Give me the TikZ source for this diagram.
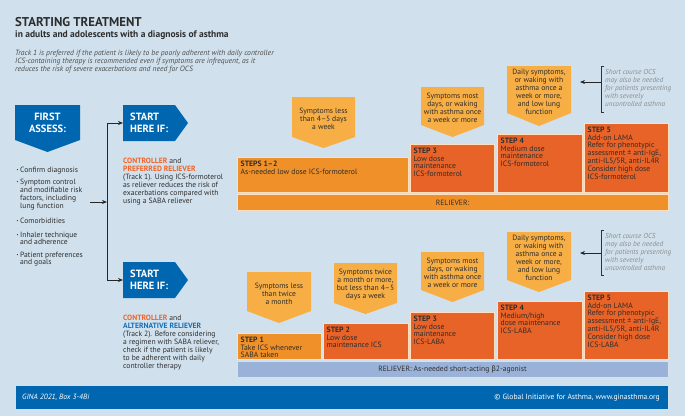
\documentclass[tikz,border=0pt]{standalone}
\usepackage{fontspec}
\setmainfont{PT Sans}
\newfontfamily\grk{Fira Sans}
\usetikzlibrary{arrows.meta}
\definecolor{bg}{RGB}{208,225,237}
\definecolor{gblue}{RGB}{0,102,176}
\definecolor{callc}{RGB}{247,174,68}
\definecolor{orng}{RGB}{239,145,40}
\definecolor{redo}{RGB}{232,99,40}
\definecolor{relb}{RGB}{155,178,216}
\definecolor{txt}{RGB}{45,45,45}
\definecolor{ctl}{RGB}{240,100,40}
\definecolor{alt}{RGB}{20,110,185}
\definecolor{ocs}{RGB}{140,140,140}
\newcommand{\mycallout}[7]{%
  \fill[callc] (#2,#3) -- (#4,#3) -- (#4,#5) -- ({(#2+#4)/2},#6) -- (#2,#5) -- cycle;
  \node[callt] (#1) at ({(#2+#4)/2},{(#3+#5)/2+2}) {#7};
}
\newcommand{\mystep}[7]{%
  \draw[stepline,fill=#6] (#2,#3) rectangle (#4,#5);
  \node[stept] (#1) at (#2,#3) {#7};
}
\newcommand{\mybullet}[3]{%
  \node[bul] (#1) at (20,#2) {\llap{\textbf{·}\hspace{1.6pt}}#3};
}
\begin{document}
\begin{tikzpicture}[x=1pt,y=-1pt,
  callt/.style={align=center,text=txt,inner sep=0pt,font=\fontsize{7.6}{8}\selectfont},
  stepline/.style={draw=white!75!orange,line width=0.7pt},
  stept/.style={anchor=north west,align=left,text=txt,inner sep=3.5pt,font=\fontsize{7.7}{7.8}\selectfont},
  bul/.style={anchor=north west,align=left,text=txt,inner sep=0pt,font=\fontsize{7.6}{7.8}\selectfont},
  body/.style={anchor=north west,align=left,text=txt,inner sep=0pt,font=\fontsize{7.6}{8}\selectfont},
  ocsnote/.style={anchor=north west,align=left,text=ocs,inner sep=0pt,font=\fontsize{7.2}{7.9}\selectfont\itshape},
  arr/.style={-{Stealth[length=5pt,width=4pt]},line width=0.8pt,draw=black!85},
  white head/.style={text=white,font=\fontsize{10.5}{12.5}\selectfont\bfseries,inner sep=0pt,align=left}
]
\fill[bg] (0,0) rectangle (685,416);
\useasboundingbox (0,0) rectangle (685,416);

% title
\node[anchor=base west,inner sep=0pt,text=txt,font=\fontsize{12.8}{15}\selectfont\bfseries] (title) at (15,26) {STARTING TREATMENT};
\node[anchor=base west,inner sep=0pt,text=txt,font=\fontsize{9.5}{12}\selectfont\bfseries] (sub) at (15,37) {in adults and adolescents with a diagnosis of asthma};
\node[anchor=north west,inner sep=0pt,align=left,text=txt!85,font=\fontsize{7.6}{8.3}\selectfont\itshape] (note) at (15,49.5)
 {Track 1 is preferred if the patient is likely to be poorly adherent with daily controller\\ICS-containing therapy is recommended even if symptoms are infrequent, as it\\reduces the risk of severe exacerbations and need for OCS};

% FIRST ASSESS
\fill[gblue] (15,105) -- (80,105) -- (80,140) -- (47.5,152) -- (15,140) -- cycle;
\node[white head,align=center] (fa) at (47.5,123) {FIRST\\ASSESS:};

\mybullet{b1}{166.5}{Confirm diagnosis}
\mybullet{b2}{179}{Symptom control\\and modifiable risk\\factors, including\\lung function}
\mybullet{b3}{218}{Comorbidities}
\mybullet{b4}{231.5}{Inhaler technique\\and adherence}
\mybullet{b5}{251.5}{Patient preferences\\and goals}

% START HERE IF shapes
\fill[gblue] (123,105) -- (175,105) -- (188,123) -- (175,141) -- (123,141) -- cycle;
\node[white head,anchor=west] (sh1) at (130,123) {START\\HERE IF:};
\fill[gblue] (123,262) -- (175,262) -- (188,280) -- (175,298) -- (123,298) -- cycle;
\node[white head,anchor=west] (sh2) at (130,280) {START\\HERE IF:};
\coordinate (s1w) at (123,123);
\coordinate (s2w) at (123,280);
\coordinate (jn) at (107,202);
\coordinate (bend) at (90,202);
\draw[arr] (bend) -- (jn);
\draw[arr] (jn) |- (s1w);
\draw[arr] (jn) |- (s2w);

% track descriptions
\node[body] (t1) at (123,157.5) {{\bfseries\color{ctl}CONTROLLER} and\\{\bfseries\color{ctl}PREFERRED RELIEVER}\\(Track 1). Using ICS-formoterol\\as reliever reduces the risk of\\exacerbations compared with\\using a SABA reliever};
\node[body] (t2) at (123,314.5) {{\bfseries\color{ctl}CONTROLLER} and\\{\bfseries\color{alt}ALTERNATIVE RELIEVER}\\(Track 2). Before considering\\a regimen with SABA reliever,\\check if the patient is likely\\to be adherent with daily\\controller therapy};

% ---- Track 1 ----
\mycallout{c11}{292}{97}{355}{137}{148}{Symptoms less\\than 4--5 days\\a week}
\mycallout{c13}{421}{87}{484}{125}{137}{Symptoms most\\days, or waking\\with asthma once\\a week or more}
\mycallout{c14}{507}{66}{571}{113}{126}{Daily symptoms,\\or waking with\\asthma once a\\week or more,\\and low lung\\function}

\mystep{s112}{237}{157}{408}{192}{orng}{\textbf{STEPS 1--2}\\As-needed low dose ICS-formoterol}
\mystep{s13}{410}{144}{494}{192}{redo}{\textbf{STEP 3}\\Low dose\\maintenance\\ICS-formoterol}
\mystep{s14}{497}{134}{582}{192}{redo}{\textbf{STEP 4}\\Medium dose\\maintenance\\ICS-formoterol}
\mystep{s15}{584}{123}{668}{192}{redo}{\textbf{STEP 5}\\Add-on LAMA\\Refer for phenotypic\\assessment ± anti-IgE,\\anti-IL5/5R, anti-IL4R\\Consider high dose\\ICS-formoterol}
\draw[stepline,fill=orng] (237,194) rectangle (668,210);
\node[text=txt,inner sep=0pt,font=\fontsize{7.6}{8}\selectfont] (r1) at (452.5,202.5) {RELIEVER:};

\draw[line width=0.8pt,draw=black!80] (604,66) -- (601,66) -- (601,112) -- (604,112);
\coordinate (o1) at (601,82);
\coordinate (o1e) at (580,82);
\draw[arr] (o1) -- (o1e);
\node[ocsnote] (n1) at (605,69.5) {Short course OCS\\may also be needed\\for patients presenting\\with severely\\uncontrolled asthma};

% ---- Track 2 ----
\mycallout{c21}{247}{272}{311}{311}{323}{Symptoms less\\than twice\\a month}
\mycallout{c22}{334}{263}{397}{303}{314}{Symptoms twice\\a month or more,\\but less than 4--5\\days a week}
\mycallout{c23}{421}{252}{484}{290}{302}{Symptoms most\\days, or waking\\with asthma once\\a week or more}
\mycallout{c24}{507}{232}{571}{280}{292}{Daily symptoms,\\or waking with\\asthma once a\\week or more,\\and low lung\\function}

\mystep{s21}{237}{333}{321}{359}{orng}{\textbf{STEP 1}\\Take ICS whenever\\SABA taken}
\mystep{s22}{323}{323}{408}{359}{redo}{\textbf{STEP 2}\\Low dose\\maintenance ICS}
\mystep{s23}{410}{312}{494}{359}{redo}{\textbf{STEP 3}\\Low dose\\maintenance\\ICS-LABA}
\mystep{s24}{497}{301}{582}{359}{redo}{\textbf{STEP 4}\\Medium/high\\dose maintenance\\ICS-LABA}
\mystep{s25}{584}{291}{668}{359}{redo}{\textbf{STEP 5}\\Add-on LAMA\\Refer for phenotypic\\assessment ± anti-IgE,\\anti-IL5/5R, anti-IL4R\\Consider high dose\\ICS-LABA}
\draw[draw=white!60!relb,line width=0.7pt,fill=relb] (237,361) rectangle (668,377);
\node[text=txt,inner sep=0pt,font=\fontsize{7.6}{8}\selectfont] (r2) at (452.5,369.5) {RELIEVER: As-needed short-acting {\grk β}2-agonist};

\draw[line width=0.8pt,draw=black!80] (604,230) -- (601,230) -- (601,275) -- (604,275);
\coordinate (o2) at (601,253);
\coordinate (o2e) at (580,253);
\draw[arr] (o2) -- (o2e);
\node[ocsnote] (n2) at (605,233.5) {Short course OCS\\may also be needed\\for patients presenting\\with severely\\uncontrolled asthma};

% footer
\fill[gblue] (16,386) rectangle (668,409);
\node[anchor=west,text=white,inner sep=0pt,font=\fontsize{7.6}{8}\selectfont\itshape] (f1) at (22,397.5) {GINA 2021, Box 3-4Bi};
\node[anchor=east,text=white,inner sep=0pt,font=\fontsize{7.6}{8}\selectfont] (f2) at (660,397.5) {© Global Initiative for Asthma, www.ginasthma.org};
\end{tikzpicture}
\end{document}
